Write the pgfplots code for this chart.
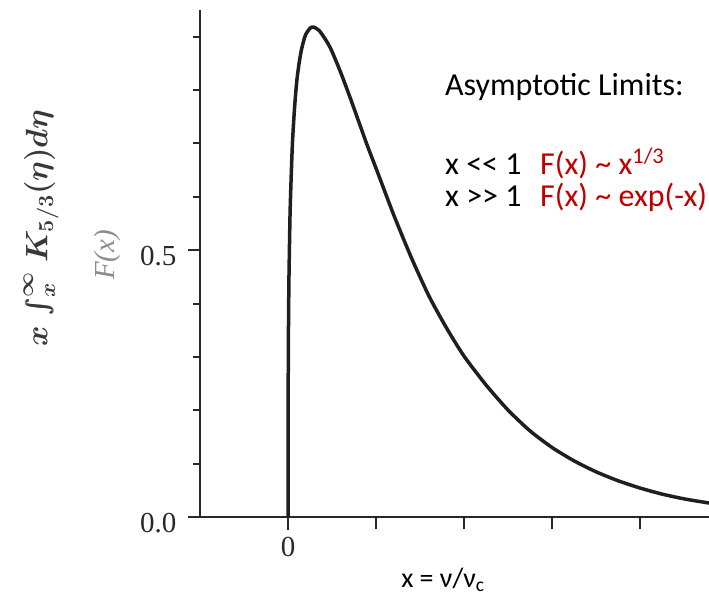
\documentclass[border=0pt]{standalone}
\usepackage{fix-cm}
\usepackage{amsmath}
\usepackage{pgfplots}
\pgfplotsset{compat=1.18}
\usepackage{bm}
\usepackage{fontspec}
\setmainfont{Carlito}
\newfontfamily\scanfont{Liberation Serif}
\definecolor{slidered}{RGB}{192,0,0}
\definecolor{scangray}{RGB}{40,40,40}
\newcommand{\biglabel}{$\bm{x}\,\bm{\int_{x}^{\infty}}\,\bm{K_{5/3}(\eta)d\eta}$}

\begin{document}
\begin{tikzpicture}[x=1pt,y=1pt]
\begin{axis}[
    at={(0,0)}, anchor=south west,
    scale only axis, width=509pt, height=507pt,
    xmin=-1, xmax=4.78, ymin=0, ymax=0.95,
    axis x line*=bottom, axis y line*=left,
    axis line style={-, line width=2.2pt, color=scangray},
    tick style={line width=2pt, color=scangray},
    tick align=outside,
    xtick={1,2,3,4}, xticklabels={},
    extra x ticks={0}, extra x tick labels={0},
    extra x tick style={major tick length=13pt},
    ytick={0,0.5}, yticklabels={0.0,0.5},
    minor ytick={0.1,0.2,0.3,0.4,0.6,0.7,0.8,0.9},
    major tick length=12pt, minor tick length=7pt,
    ticklabel style={font=\scanfont\fontsize{29}{31}\selectfont, color=scangray},
    yticklabel style={yshift=-6pt, xshift=-8pt},
    xticklabel style={yshift=-4pt},
    clip=true,
]
\addplot[smooth, tension=0.4, line width=3.5pt, color=black!88] coordinates {
    (0,0) (0.0001,0.0998) (0.0005,0.171) (0.001,0.213) (0.002,0.265)
    (0.005,0.358) (0.01,0.445) (0.02,0.547) (0.025,0.583) (0.035,0.635)
    (0.05,0.702) (0.075,0.770) (0.1,0.818) (0.125,0.850) (0.15,0.874)
    (0.175,0.891) (0.2,0.904) (0.25,0.916) (0.29,0.918) (0.35,0.912)
    (0.4,0.901) (0.45,0.888) (0.5,0.872) (0.6,0.832) (0.7,0.788)
    (0.8,0.742) (0.9,0.696) (1.0,0.653) (1.2,0.566) (1.4,0.486)
    (1.6,0.414) (1.8,0.354) (2.0,0.301) (2.25,0.247) (2.5,0.200)
    (2.75,0.161) (3.0,0.130) (3.25,0.105) (3.5,0.0845) (3.75,0.0678)
    (4.0,0.0541) (4.25,0.0428) (4.5,0.0339) (4.78,0.0262)
};
\end{axis}
% labels of the scanned figure
\node[rotate=90, text=black!78, font=\fontsize{31}{35}\selectfont] at (-159pt,289pt) {\biglabel};
\node[rotate=90, text=black!45, font=\scanfont\itshape\fontsize{29}{31}\selectfont] at (-92pt,262pt) {F(x)};
% slide annotations
\node[anchor=base west, inner sep=0pt, font=\fontsize{32}{36}\selectfont] at (245pt,421pt) {Asymptotic Limits:};
\node[anchor=base west, inner sep=0pt, font=\fontsize{32}{36}\selectfont] at (245pt,342pt) {x <{}< 1};
\node[anchor=base west, inner sep=0pt, font=\fontsize{32}{36}\selectfont, text=slidered] at (340pt,342pt) {F(x) \textasciitilde{} x\textsuperscript{1/3}};
\node[anchor=base west, inner sep=0pt, font=\fontsize{32}{36}\selectfont] at (245pt,310pt) {x >{}> 1};
\node[anchor=base west, inner sep=0pt, font=\fontsize{32}{36}\selectfont, text=slidered] at (340pt,310pt) {F(x) \textasciitilde{} exp(-x)};
\node[anchor=base, inner sep=0pt, font=\fontsize{28}{30}\selectfont] at (243pt,-70pt) {x = ν/ν\textsubscript{c}};
\pgfresetboundingbox
\path (-200pt,-89pt) rectangle (509pt,517pt);
\end{tikzpicture}
\end{document}
